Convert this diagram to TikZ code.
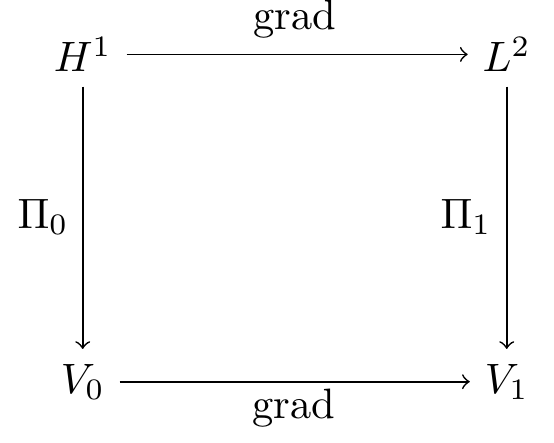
\documentclass[tikz,border=0pt]{standalone}
\begin{document}
\begin{tikzpicture}[x=0.23529pt,y=-0.23529pt,
  obj/.style={anchor=base,inner sep=3.33pt},
  lbl/.style={anchor=base,inner sep=0pt},
  arr/.style={->}]
\useasboundingbox (0,0) rectangle (554,442);
\node[obj] (H1) at (82.7,71.7) {$H^1$};
\node[obj] (L2) at (506.7,71.7) {$L^2$};
\node[obj] (V0) at (82.7,393) {$V_0$};
\node[obj] (V1) at (506.7,393) {$V_1$};
\draw[arr] (H1) -- (L2);
\draw[arr] (V0) -- (V1);
\draw[arr] (H1) -- (V0);
\draw[arr] (L2) -- (V1);
\node[lbl] (g1) at (295,29) {grad};
\node[lbl] (g2) at (294,418) {grad};
\node[lbl] (p0) at (43,228) {$\Pi_0$};
\node[lbl] (p1) at (466,228) {$\Pi_1$};
\end{tikzpicture}
\end{document}
